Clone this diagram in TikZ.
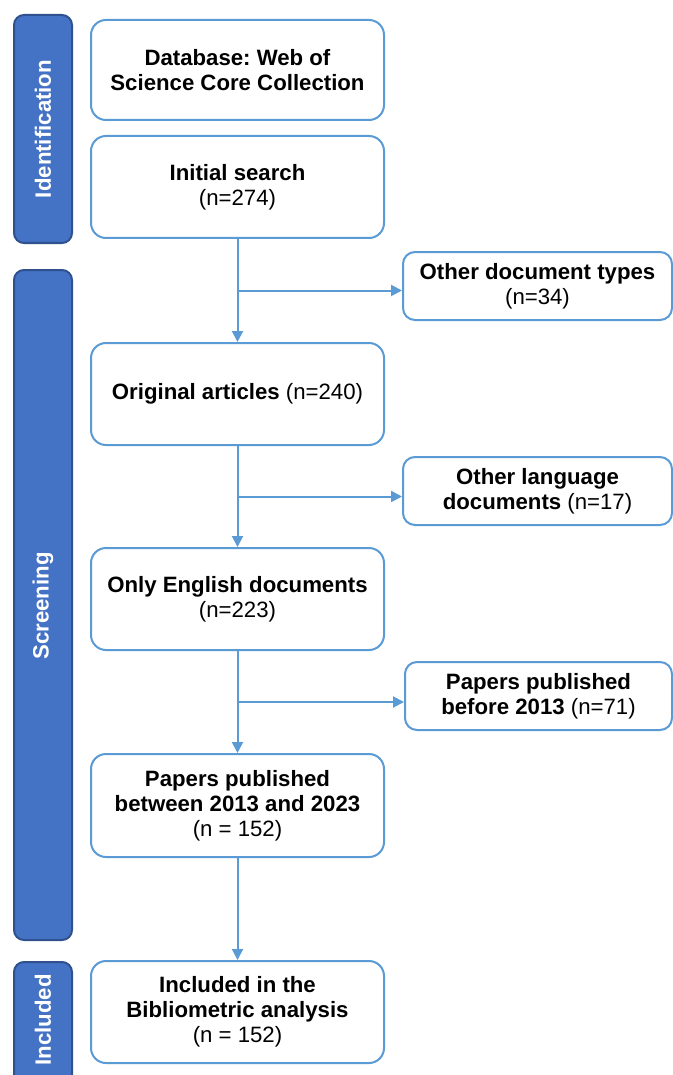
\documentclass[tikz,border=0pt]{standalone}
\usepackage{fontspec}
\setmainfont{Liberation Sans}
\usetikzlibrary{arrows.meta,calc}
\definecolor{boxblue}{HTML}{5B9BD5}
\definecolor{sidefill}{HTML}{4472C4}
\definecolor{sidedraw}{HTML}{2F528F}
\frenchspacing
\begin{document}
\begin{tikzpicture}[x=0.5pt,y=-0.5pt,
  every node/.style={font=\fontsize{11.1}{12.6}\selectfont},
  mainbox/.style={draw=boxblue,line width=1pt,rounded corners=7.5pt,fill=white,
    minimum width=146.5pt,align=center,inner sep=2pt},
  sidebox/.style={draw=boxblue,line width=1pt,rounded corners=6pt,fill=white,
    minimum width=134.5pt,minimum height=34pt,align=center,inner sep=2pt},
  stage/.style={draw=sidedraw,line width=1pt,fill=sidefill,rounded corners=5pt,
    minimum width=29pt},
  stagetext/.style={text=white,rotate=90,font=\fontsize{11.1}{12.6}\selectfont\bfseries},
  arr/.style={draw=boxblue,line width=1pt,-{Triangle[length=5.5pt,width=5.5pt]}}]
\clip (0,0) rectangle (673,1075);
\fill[white] (0,0) rectangle (673,1075);
% stage bars
\node[stage,minimum height=114pt] (sid) at (43,129) {};
\node[stagetext] (tid) at (43,129) {Identification};
\node[stage,minimum height=335pt] (sscr) at (43,605) {};
\node[stagetext] (tscr) at (43,606) {Screening};
\node[stage,minimum height=61.5pt] (sinc) at (43,1023.5) {};
\node[stagetext] (tinc) at (43,1020) {Included};
% main boxes
\node[mainbox,minimum height=50pt] (b1) at (237.5,70) {\textbf{Database: Web of}\\\textbf{Science Core Collection}};
\node[mainbox,minimum height=51pt] (b2) at (237.5,187) {\textbf{Initial search}\\(n=274)};
\node[mainbox,minimum height=51pt] (b3) at (237.5,394) {\textbf{Original articles} (n=240)};
\node[mainbox,minimum height=51pt] (b4) at (237.5,599) {\textbf{Only English documents}\\(n=223)};
\node[mainbox,minimum height=51.5pt] (b5) at (237.5,805.5) {\textbf{Papers published}\\\textbf{between 2013 and 2023}\\(n = 152)};
\node[mainbox,minimum height=51pt] (b6) at (237.5,1012) {\textbf{Included in the}\\\textbf{Bibliometric analysis}\\(n = 152)};
% side boxes
\node[sidebox] (r1) at (537.5,286) {\textbf{Other document types}\\(n=34)};
\node[sidebox] (r2) at (537.5,491) {\textbf{Other language}\\\textbf{documents} (n=17)};
\node[sidebox,minimum width=133.5pt] (r3) at (538.5,696) {\textbf{Papers published}\\\textbf{before 2013} (n=71)};
% connectors
\coordinate (m1) at ($(b2.south)!0.5!(b3.north)$);
\coordinate (m2) at ($(b3.south)!0.5!(b4.north)$);
\coordinate (m3) at ($(b4.south)!0.5!(b5.north)$);
\draw[arr] (b2.south) -- (b3.north);
\draw[arr] (m1) -- (r1.west |- m1);
\draw[arr] (b3.south) -- (b4.north);
\draw[arr] (m2) -- (r2.west |- m2);
\draw[arr] (b4.south) -- (b5.north);
\draw[arr] (m3) -- (r3.west |- m3);
\draw[arr] (b5.south) -- (b6.north);
\end{tikzpicture}
\end{document}
